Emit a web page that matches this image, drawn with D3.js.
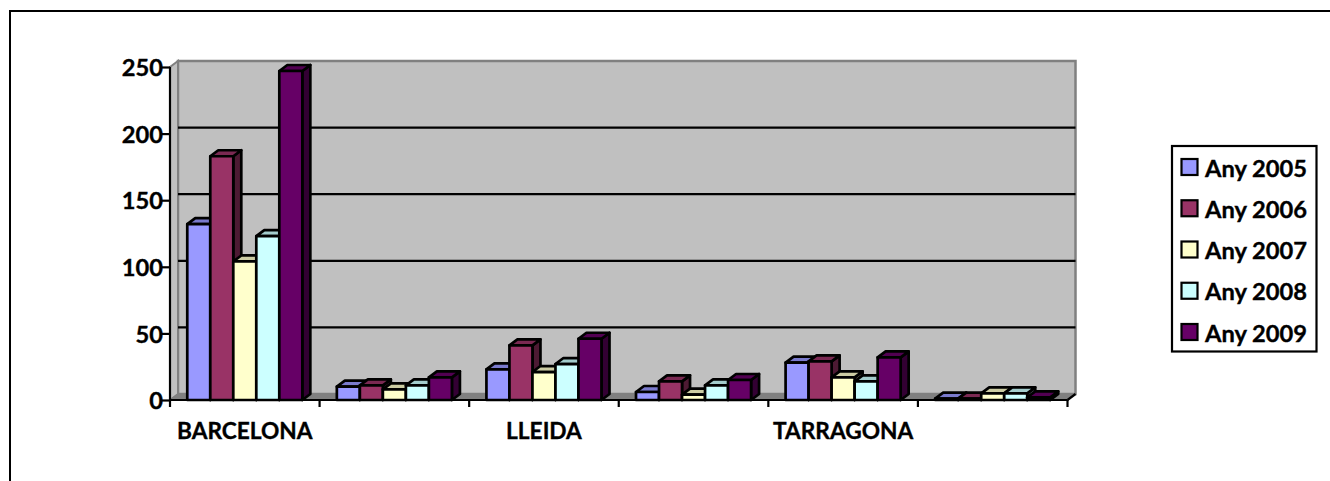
<!DOCTYPE html>
<meta charset="utf-8">
<style>
body { margin: 0; background: #fff; }
text { font-family: Lato, "Open Sans", sans-serif; font-weight: bold; fill: #000; stroke: #000; stroke-width: 0.35px; }
</style>
<svg width="1330" height="481"></svg>
<script src="https://d3js.org/d3.v7.min.js"></script>
<script>

var categories = ["BARCELONA", "", "LLEIDA", "", "TARRAGONA", ""];
var years = ["Any 2005", "Any 2006", "Any 2007", "Any 2008", "Any 2009"];
var colors = ["#9999ff", "#993366", "#ffffcc", "#ccffff", "#660066"];
var any2005 = [132, 10, 23, 6, 28, 1];
var any2006 = [183, 11, 41, 14, 29, 1];
var any2007 = [104, 8, 21, 4, 17, 5];
var any2008 = [123, 11, 27, 11, 14, 5];
var any2009 = [247, 17, 46, 15, 32, 2];
var yTicks = [0, 50, 100, 150, 200, 250];

var series = [any2005, any2006, any2007, any2008, any2009];
var svg = d3.select("svg");

// depth of the fake 3d, same for floor, walls and bars
var dx = 8, dy = -6;

var x = d3.scaleBand().domain(d3.range(categories.length)).range([170, 1067.5]);
var y = d3.scaleLinear().domain([0, 250]).range([400, 67]);
var inner = d3.scaleBand().domain(d3.range(years.length))
  .range([0, x.bandwidth()]).paddingInner(0).paddingOuter(0.75);

function shade(c, k) {
  var h = d3.rgb(c);
  return d3.rgb(h.r * k, h.g * k, h.b * k) + "";
}
function poly(pts) { return pts.map(function(p) { return p.join(","); }).join(" "); }

// outer frame, cut by the window
svg.append("path").attr("d", "M10,481V11H1330")
  .attr("fill", "none").attr("stroke", "#000").attr("stroke-width", 2);

// back wall
var x0 = x.range()[0], x1 = x.range()[1], y0 = y(0), yT = y(250);
svg.append("polygon")
  .attr("points", poly([[x0 + dx, y0 + dy], [x1 + dx, y0 + dy], [x1 + dx, yT + dy], [x0 + dx, yT + dy]]))
  .attr("fill", "#c0c0c0").attr("stroke", "#808080").attr("stroke-width", 2.5);
// side wall
svg.append("polygon")
  .attr("points", poly([[x0, y0], [x0 + dx, y0 + dy], [x0 + dx, yT + dy], [x0, yT]]))
  .attr("fill", "#c0c0c0").attr("stroke", "#808080").attr("stroke-width", 2);
// floor
svg.append("polygon")
  .attr("points", poly([[x0, y0], [x1, y0], [x1 + dx, y0 + dy], [x0 + dx, y0 + dy]]))
  .attr("fill", "#808080").attr("stroke", "#808080").attr("stroke-width", 1);

// gridlines on the back wall
svg.append("g").selectAll("line").data(yTicks.slice(1, 5)).join("line")
  .attr("x1", x0 + dx).attr("x2", x1 + dx)
  .attr("y1", function(d) { return y(d) + dy; })
  .attr("y2", function(d) { return y(d) + dy; })
  .attr("stroke", "#000").attr("stroke-width", 2.2);

// y axis
var axisY = svg.append("g").attr("transform", "translate(" + x0 + ",0)")
  .call(d3.axisLeft(y).tickValues(yTicks).tickSize(8).tickPadding(-1));
axisY.selectAll("path,line").attr("stroke", "#000").attr("stroke-width", 2.2);
axisY.selectAll("text").attr("font-size", 23.7).attr("dy", "0.37em");
axisY.attr("font-family", null);
axisY.select(".domain").attr("d", "M0," + yT + "V" + y0);

// x axis line and ticks
svg.append("line").attr("x1", x0).attr("x2", x1).attr("y1", y0).attr("y2", y0)
  .attr("stroke", "#000").attr("stroke-width", 2.2);
svg.append("g").selectAll("line").data(d3.range(categories.length + 1)).join("line")
  .attr("x1", function(i) { return x0 + i * x.step(); })
  .attr("x2", function(i) { return x0 + i * x.step(); })
  .attr("y1", y0).attr("y2", y0 + 7)
  .attr("stroke", "#000").attr("stroke-width", 2.2);
svg.append("line").attr("x1", x1).attr("x2", x1 + dx).attr("y1", y0).attr("y2", y0 + dy)
  .attr("stroke", "#000").attr("stroke-width", 2.2);

svg.append("g").selectAll("text").data(categories).join("text")
  .attr("x", function(d, i) { return x(i) + x.bandwidth() / 2; })
  .attr("y", 438.5).attr("text-anchor", "middle").attr("font-size", 22.7)
  .text(function(d) { return d; });

// bars, drawn left to right
var bars = svg.append("g").attr("stroke", "#000").attr("stroke-width", 2.7).attr("stroke-linejoin", "round");
categories.forEach(function(cat, i) {
  series.forEach(function(vals, s) {
    var l = x(i) + inner(s), r = l + inner.bandwidth(), t = y(vals[i]), b = y(0);
    var g = bars.append("g");
    g.append("polygon").attr("fill", shade(colors[s], 0.5))
      .attr("points", poly([[r, t], [r + dx, t + dy], [r + dx, b + dy], [r, b]]));
    g.append("polygon").attr("fill", shade(colors[s], 0.8))
      .attr("points", poly([[l, t], [l + dx, t + dy], [r + dx, t + dy], [r, t]]));
    g.append("rect").attr("x", l).attr("y", t).attr("width", r - l).attr("height", b - t)
      .attr("fill", colors[s]);
  });
});

// legend
var lg = svg.append("g");
lg.append("rect").attr("x", 1172).attr("y", 146).attr("width", 144.5).attr("height", 205.5)
  .attr("fill", "#fff").attr("stroke", "#000").attr("stroke-width", 2.2);
var legendY = d3.scalePoint().domain(years).range([167, 332]);
years.forEach(function(name, s) {
  lg.append("rect").attr("x", 1181.5).attr("y", legendY(name) - 8).attr("width", 16).attr("height", 16)
    .attr("fill", colors[s]).attr("stroke", "#000").attr("stroke-width", 2.2);
  lg.append("text").attr("x", 1205).attr("y", legendY(name) + 9.5).attr("font-size", 23.7).text(name);
});

</script>
